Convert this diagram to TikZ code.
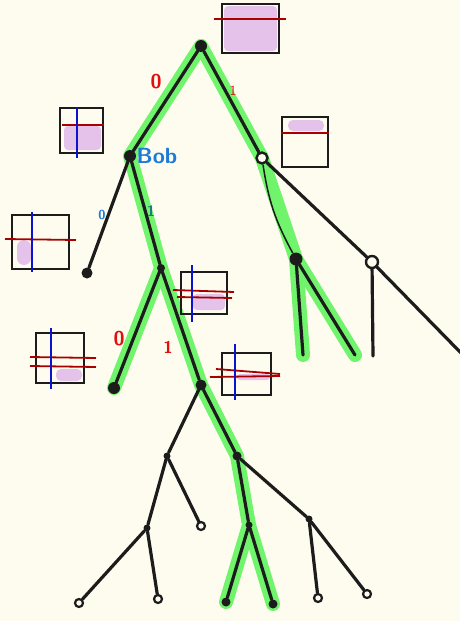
\documentclass[tikz,border=0pt]{standalone}
\usepackage{tikz}
\usepackage{xcolor}
\usetikzlibrary{positioning}

\definecolor{paper}{HTML}{FEFCEE}
\definecolor{ink}{HTML}{1C1C1C}
\definecolor{hl}{HTML}{70F46C}
\definecolor{lilac}{HTML}{E4C2EA}
\definecolor{cut}{HTML}{A80000}
\definecolor{axis}{HTML}{0A14D0}
\definecolor{bitred}{HTML}{E01010}
\definecolor{bitblue}{HTML}{1C7AD8}
\definecolor{bitteal}{HTML}{1A7C80}

\pgfdeclarelayer{under}
\pgfsetlayers{under,main}

\begin{document}
\begin{tikzpicture}[x=1pt, y=-1pt,
    dot/.style={circle, fill=ink, inner sep=0pt, minimum size=11pt},
    ring/.style={circle, draw=ink, line width=2.4pt, fill=paper, inner sep=0pt, minimum size=11pt},
    twig/.style={circle, fill=ink, inner sep=0pt, minimum size=7pt},
    leaf/.style={circle, draw=ink, line width=2.2pt, fill=paper, inner sep=0pt, minimum size=8pt},
    edge/.style={ink, line width=3.2pt, line cap=round},
    trail/.style={hl, line width=14pt, line cap=round, line join=round},
    state/.style={draw=ink, line width=2pt, inner sep=0pt},
    blob/.style={lilac, rounded corners=4pt},
    cutline/.style={cut, line width=1.8pt},
    axisline/.style={axis, line width=1.6pt},
    bit/.style={font=\sffamily\bfseries\fontsize{20}{20}\selectfont}]

    \useasboundingbox (0,0) rectangle (460,621);

    % Tree nodes
    \node[dot, minimum size=12pt] (r) at (201,46) {};
    \node[dot, minimum size=12pt] (bob) at (130,156) {};
    \node[ring] (c) at (262,158) {};
    \node[dot] (bl) at (87,273) {};
    \node[dot, minimum size=8pt] (d) at (161,268) {};
    \node[dot, minimum size=12pt] (e) at (114,388) {};
    \node[dot] (f) at (201,385) {};
    \node[dot, minimum size=13pt] (g) at (296,259) {};
    \node[ring, minimum size=12pt] (h) at (372,262) {};
    \coordinate (g0) at (303,355);
    \coordinate (g1) at (355,355);
    \coordinate (h0) at (373,356);
    \coordinate (h1) at (462,354);
    \node[twig] (i) at (167,456) {};
    \node[twig, minimum size=9pt] (j) at (237,456) {};
    \node[twig] (k) at (147,528) {};
    \node[leaf] (l) at (201,526) {};
    \node[twig] (m) at (249,525) {};
    \node[twig] (n) at (309,519) {};
    \node[leaf] (k0) at (79,603) {};
    \node[leaf] (k1) at (158,599) {};
    \node[dot, minimum size=9pt] (m0) at (226,602) {};
    \node[dot, minimum size=9pt] (m1) at (273,604) {};
    \node[leaf] (n0) at (318,598) {};
    \node[leaf] (n1) at (367,594) {};

    \begin{pgfonlayer}{under}
    \fill[paper] (0,0) rectangle (460,621);

    % Highlighted paths
    \draw[trail] (r.center) -- (bob.center) -- (d.center) -- (e.center);
    \draw[trail] (d.center) -- (f.center) -- (j.center) -- (m.center) -- (m0.center);
    \draw[trail] (m.center) -- (m1.center);
    \draw[trail] (r.center) -- (c.center) -- (g.center) -- (g0);
    \draw[trail] (g.center) -- (g1);

    % Edges
    \draw[edge] (r) -- (bob);
    \draw[edge] (r) -- (c);
    \draw[edge] (bob) -- (bl);
    \draw[edge] (bob) -- (d);
    \draw[edge] (d) -- (e);
    \draw[edge] (d) -- (f);
    \draw[edge] (c) -- (h);
    \draw[ink, line width=1.5pt] (c) to[bend right=10] (g);
    \draw[edge] (g) -- (g0);
    \draw[edge] (g) -- (g1);
    \draw[edge] (h) -- (h0);
    \draw[edge] (h) -- (h1);
    \draw[edge] (f) -- (i);
    \draw[edge] (f) -- (j);
    \draw[edge] (i) -- (k);
    \draw[edge] (i) -- (l);
    \draw[edge] (k) -- (k0);
    \draw[edge] (k) -- (k1);
    \draw[edge] (j) -- (m);
    \draw[edge] (j) -- (n);
    \draw[edge] (m) -- (m0);
    \draw[edge] (m) -- (m1);
    \draw[edge] (n) -- (n0);
    \draw[edge] (n) -- (n1);
    \end{pgfonlayer}

    % State boxes
    \fill[blob] (224,6) rectangle (277,51);
    \node[state, minimum width=57pt, minimum height=49pt] (s0) at (250.5,28.5) {};
    \draw[cutline] (214,19) -- (286,19);

    \fill[blob] (64,126) rectangle (101,150);
    \node[state, minimum width=43pt, minimum height=45pt] (s1) at (81.5,130.5) {};
    \draw[cutline] (62,125) -- (104,125);
    \draw[axisline] (77,107) -- (77,158);

    \fill[blob, rounded corners=5pt] (288,120) rectangle (324,131);
    \node[state, minimum width=46pt, minimum height=50pt] (s2) at (305,142) {};
    \draw[cutline] (281,133) -- (329,133);

    \fill[blob, rounded corners=7pt] (17,240) rectangle (31,265);
    \node[state, minimum width=57pt, minimum height=54pt] (s3) at (40.5,242) {};
    \draw[cutline] (5,239) -- (76,240);
    \draw[axisline] (32,212) -- (32,272);

    \fill[blob] (193,294) rectangle (225,310);
    \node[state, minimum width=46pt, minimum height=42pt] (s4) at (204,293) {};
    \draw[cutline] (173,290) -- (234,292);
    \draw[cutline] (177,297) -- (232,298);
    \draw[axisline] (192,265) -- (192,322);

    \fill[blob, rounded corners=5pt] (56,369) rectangle (82,381);
    \node[state, minimum width=48pt, minimum height=50pt] (s5) at (60,358) {};
    \draw[cutline] (30,357) -- (96,358);
    \draw[cutline] (30,366) -- (96,367);
    \draw[axisline] (51,328) -- (51,389);

    \fill[blob, rounded corners=3pt] (237,374) rectangle (270,380);
    \node[state, minimum width=49pt, minimum height=42pt] (s6) at (246.5,374) {};
    \draw[cutline] (216,369) -- (280,374);
    \draw[cutline] (210,377) -- (280,376);
    \draw[axisline] (235,344) -- (235,400);

    % Labels
    \node[bit, text=bitred] (b0) at (156,82) {0};
    \node[bit, text=bitred, font=\sffamily\fontsize{14}{14}\selectfont] (b1) at (233,91) {1};
    \node[bit, text=bitblue, font=\sffamily\bfseries\fontsize{22}{22}\selectfont] (name) at (157,156) {Bob};
    \node[bit, text=bitblue, font=\sffamily\bfseries\fontsize{13}{13}\selectfont] (b2) at (102,215) {0};
    \node[bit, text=bitteal, font=\sffamily\bfseries\fontsize{15}{15}\selectfont] (b3) at (151,211) {1};
    \node[bit, text=bitred] (b4) at (119,339) {0};
    \node[bit, text=bitred, font=\sffamily\bfseries\fontsize{17}{17}\selectfont] (b5) at (168,347) {1};
\end{tikzpicture}
\end{document}
